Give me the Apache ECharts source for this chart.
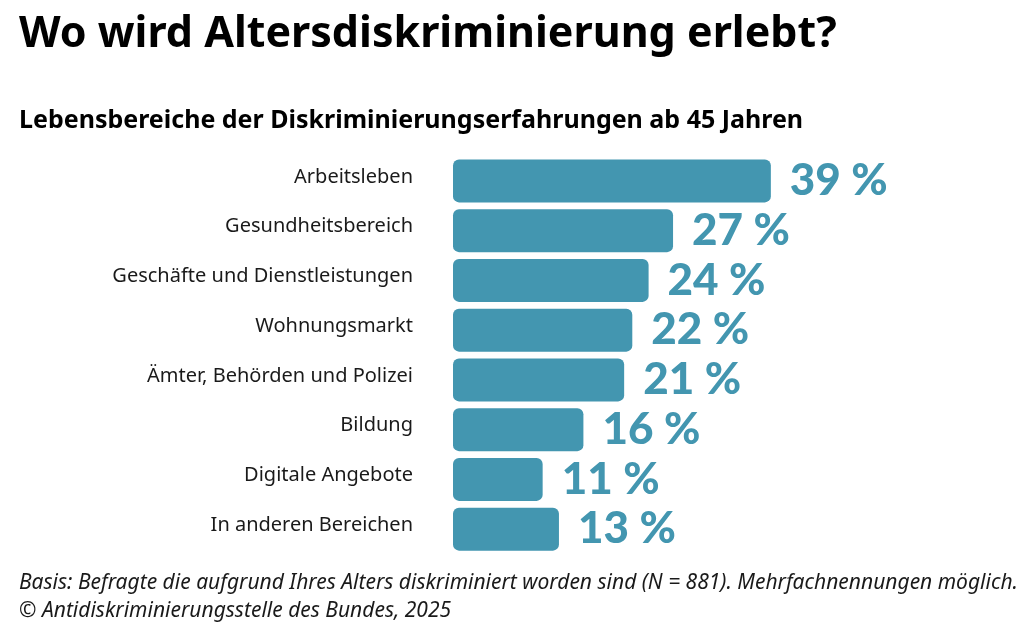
<!DOCTYPE html>
<html>
<head>
<meta charset="utf-8">
<script src="https://cdn.jsdelivr.net/npm/echarts@6/dist/echarts.min.js"></script>
<style>
  html, body { margin: 0; padding: 0; background: #fff; }
  #chart { width: 1024px; height: 631px; }
</style>
</head>
<body>
<div id="chart"></div>
<script>
const categories = [
  'Arbeitsleben',
  'Gesundheitsbereich',
  'Geschäfte und Dienstleistungen',
  'Wohnungsmarkt',
  'Ämter, Behörden und Polizei',
  'Bildung',
  'Digitale Angebote',
  'In anderen Bereichen'
];
const values = [39, 27, 24, 22, 21, 16, 11, 13];

const barColor = '#4396b0';
const font = '"Noto Sans", sans-serif';

let chart = echarts.init(document.getElementById('chart'));
chart.setOption({
  animation: false,
  title: [
    {
      text: 'Wo wird Altersdiskriminierung erlebt?',
      left: 14,
      top: 8,
      textStyle: { fontFamily: font, fontSize: 43, fontWeight: 'bold', color: '#000' }
    },
    {
      text: 'Lebensbereiche der Diskriminierungserfahrungen ab 45 Jahren',
      left: 14,
      top: 103,
      textStyle: { fontFamily: font, fontSize: 25, fontWeight: 'bold', color: '#000' }
    },
    {
      // footnote
      text: 'Basis: Befragte die aufgrund Ihres Alters diskriminiert worden sind (N = 881). Mehrfachnennungen möglich.\n© Antidiskriminierungsstelle des Bundes, 2025',
      left: 14,
      top: 564,
      textStyle: { fontFamily: font, fontSize: 21, fontStyle: 'italic', fontWeight: 'normal', color: '#1a1a1a', lineHeight: 28 }
    }
  ],
  grid: { left: 453, top: 156, width: 489, height: 398, containLabel: false },
  xAxis: {
    type: 'value',
    min: 0,
    max: 60,
    show: false
  },
  yAxis: {
    type: 'category',
    data: categories,
    inverse: true,
    axisLine: { show: false },
    axisTick: { show: false },
    axisLabel: {
      margin: 40,
      fontFamily: font,
      fontSize: 20,
      color: '#1a1a1a',
      // labels sit a little above bar centre
      verticalAlign: 'bottom',
      lineHeight: 8
    }
  },
  series: [
    {
      type: 'bar',
      data: values,
      barWidth: 43,
      itemStyle: { color: barColor, borderRadius: 6 },
      label: {
        show: true,
        position: 'right',
        distance: 19,
        formatter: '{c} %',
        fontFamily: '"Lato Black", Lato, sans-serif',
        fontWeight: 900,
        fontSize: 44,
        color: barColor
      }
    }
  ]
});
</script>
</body>
</html>
